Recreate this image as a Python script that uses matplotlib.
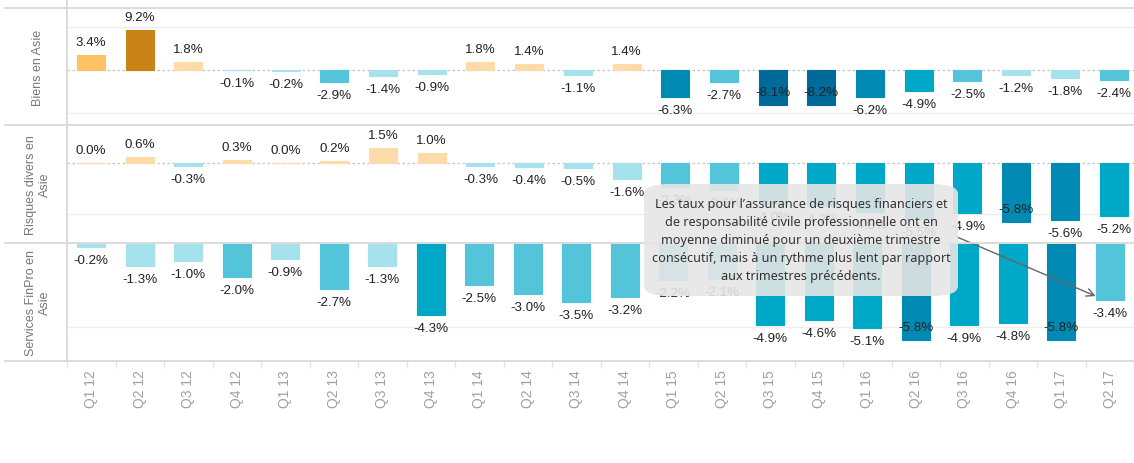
import matplotlib.pyplot as plt
from matplotlib.lines import Line2D
from matplotlib.patches import FancyBboxPatch

quarters = ['Q1 12', 'Q2 12', 'Q3 12', 'Q4 12', 'Q1 13', 'Q2 13', 'Q3 13', 'Q4 13',
            'Q1 14', 'Q2 14', 'Q3 14', 'Q4 14', 'Q1 15', 'Q2 15', 'Q3 15', 'Q4 15',
            'Q1 16', 'Q2 16', 'Q3 16', 'Q4 16', 'Q1 17', 'Q2 17']
biens = [3.4, 9.2, 1.8, -0.1, -0.2, -2.9, -1.4, -0.9, 1.8, 1.4, -1.1, 1.4,
         -6.3, -2.7, -8.1, -8.2, -6.2, -4.9, -2.5, -1.2, -1.8, -2.4]
risques = [0.0, 0.6, -0.3, 0.3, 0.0, 0.2, 1.5, 1.0, -0.3, -0.4, -0.5, -1.6,
           -2.3, -2.6, -4.0, -4.2, -4.8, -5.5, -4.9, -5.8, -5.6, -5.2]
finpro = [-0.2, -1.3, -1.0, -2.0, -0.9, -2.7, -1.3, -4.3, -2.5, -3.0, -3.5, -3.2,
          -2.2, -2.1, -4.9, -4.6, -5.1, -5.8, -4.9, -4.8, -5.8, -3.4]
row_names = ['Biens en Asie', 'Risques divers en\nAsie', 'Services FinPro en\nAsie']
note = ("Les taux pour l\u2019assurance de risques financiers et\n"
        "de responsabilit\u00e9 civile professionnelle ont en\n"
        "moyenne diminu\u00e9 pour un deuxi\u00e8me trimestre\n"
        "cons\u00e9cutif, mais \u00e0 un rythme plus lent par rapport\n"
        "aux trimestres pr\u00e9c\u00e9dents.")

plt.rcParams['font.family'] = ['Liberation Sans', 'DejaVu Sans']

W, H = 1134, 464
fig = plt.figure(figsize=(W / 100, H / 100), dpi=100)


def color_for(v):
    if v >= 0:
        if v < 2:
            return '#fedba8'
        if v < 5:
            return '#fcc263'
        return '#c98418'
    if v > -1.95:
        return '#a6e1ee'
    if v >= -3.5:
        return '#54c4da'
    if v >= -5.5:
        return '#00a8c7'
    if v >= -7:
        return '#008ab3'
    return '#006a9b'


# (top px, bottom px, ylim, gridlines, zero line)
rows = [
    (9, 126, (-12.79, 14.42), [-10, 10], True),
    (126, 244, (-7.8, 3.71), [-5], True),
    (244, 362, (-7.07, 0.06), [-5], False),
]
series = [biens, risques, finpro]
x = list(range(len(quarters)))
left = 67

axes = []
for (top, bot, ylim, grid, zero), vals in zip(rows, series):
    ax = fig.add_axes([left / W, 1 - bot / H, 1 - left / W, (bot - top) / H])
    ax.set_xlim(-0.49, 21.42)
    ax.set_ylim(*ylim)
    for s in ax.spines.values():
        s.set_visible(False)
    ax.set_yticks([])
    ax.set_xticks([])
    for g in grid:
        ax.axhline(g, color='#eeeeee', lw=1, zorder=0)
    if zero:
        ax.axhline(0, color='#c4c4c4', lw=0.9, ls=(0, (2, 2)), zorder=1)
    cols = [color_for(v) for v in vals]
    ax.bar(x, vals, width=0.575, color=cols, edgecolor=cols, linewidth=0.8, zorder=2)

    ppu = (bot - top) / (ylim[1] - ylim[0])
    for i, v in enumerate(vals):
        space = (v - ylim[0]) * ppu
        if v >= 0 or space < 21.7:
            off = 13
        else:
            off = -13
        ax.annotate(f'{v:.1f}%', (i, v), xytext=(0, off * 0.72), textcoords='offset points',
                    ha='center', va='center', fontsize=9.6, color='#222222', zorder=3)
    fig.text(38 / W, 1 - (top + bot) / 2 / H, row_names[len(axes)], rotation=90,
             ha='center', va='center', fontsize=9, color='#777777', linespacing=1.2)
    axes.append(ax)

ax3 = axes[-1]
ax3.set_xticks(x)
ax3.set_xticklabels(quarters, rotation=90, fontsize=10, color='#a0a0a0')
ax3.tick_params(axis='x', which='major', length=0, pad=6)
ax3.set_xticks([i - 0.5 for i in range(len(quarters) + 1)], minor=True)
ax3.tick_params(axis='x', which='minor', length=5, color='#e6e6e6', width=1)

# table borders
for yy in [9, 126, 244, 362]:
    fig.add_artist(Line2D([5 / W, 1], [1 - yy / H] * 2, color='#d6d6d6', lw=1.2))
fig.add_artist(Line2D([left / W] * 2, [1 - 362 / H, 1], color='#d6d6d6', lw=1.2))

# annotation box
box = FancyBboxPatch((644 / W, 1 - 297 / H), (958 - 644) / W, (297 - 185) / H,
                     boxstyle='round,pad=0,rounding_size=0.022',
                     transform=fig.transFigure, fc='#e6e6e6', ec='none', alpha=0.9, zorder=5)
fig.add_artist(box)
fig.text(801 / W, 1 - 241 / H, note, ha='center', va='center', fontsize=9.1,
         family=['Noto Sans', 'DejaVu Sans'], color='#333333', linespacing=1.5, zorder=6)
ax3.annotate('', xy=(len(quarters) - 1 - 0.29, finpro[-1] + 0.25), xycoords='data',
             xytext=(957, H - 238), textcoords='figure pixels',
             arrowprops=dict(arrowstyle='->', color='#666666', lw=1, shrinkA=0, shrinkB=0,
                             mutation_scale=14),
             annotation_clip=False, zorder=6)

fig.savefig('out.png', dpi=100)
